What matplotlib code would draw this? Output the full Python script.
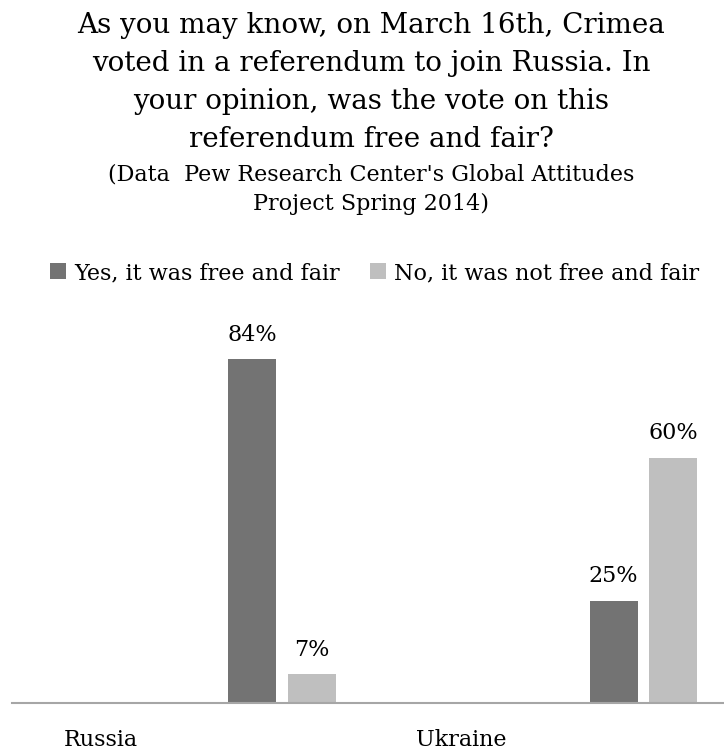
import numpy as np
import matplotlib.pyplot as plt

plt.rcParams['font.family'] = ['DejaVu Serif']

# data
countries = ['Russia', 'Ukraine']
yes_fair = [84, 25]
not_fair = [7, 60]
series_names = ['Yes, it was free and fair', 'No, it was not free and fair']

title_lines = ['As you may know, on March 16th, Crimea',
               'voted in a referendum to join Russia. In',
               'your opinion, was the vote on this',
               'referendum free and fair?']
sub_lines = ["(Data  Pew Research Center's Global Attitudes",
             'Project Spring 2014)']

W, H = 724, 754
fig = plt.figure(figsize=(W / 100, H / 100), dpi=100)
ax = fig.add_axes([12 / W, 51 / H, 712 / W, 90 * 4.09 / H])

x = np.arange(len(countries))
bw = 0.133
b1 = ax.bar(x + 0.421, yes_fair, bw, color='#737373', label=series_names[0])
b2 = ax.bar(x + 0.586, not_fair, bw, color='#bfbfbf', label=series_names[1])

for bars, vals in [(b1, yes_fair), (b2, not_fair)]:
    for r, v in zip(bars, vals):
        ax.annotate(f'{v}%', (r.get_x() + r.get_width() / 2, v),
                    xytext=(0, 13.5), textcoords='offset points',
                    ha='center', va='baseline', fontsize=16)

ax.set_xlim(-0.245, 1.727)
ax.set_ylim(0, 90)
ax.set_xticks(x)
ax.set_xticklabels(countries, fontsize=16)
ax.tick_params(axis='x', length=0, pad=19)
ax.set_yticks([])
for s in ['top', 'right', 'left']:
    ax.spines[s].set_visible(False)
ax.spines['bottom'].set_color('#a6a6a6')
ax.spines['bottom'].set_linewidth(1.5)

# title block
for line, yb in zip(title_lines, [33, 71, 109, 147]):
    fig.text(371 / W, 1 - yb / H, line, ha='center', va='baseline', fontsize=20)
for line, yb in zip(sub_lines, [180, 210]):
    fig.text(371 / W, 1 - yb / H, line, ha='center', va='baseline', fontsize=16)

fig.legend(loc='center', bbox_to_anchor=(374.5 / W, 1 - 273 / H), ncol=2,
           frameon=False, fontsize=16, handlelength=0.72, handleheight=0.72,
           handletextpad=0.36, columnspacing=1.35, borderpad=0)

fig.savefig('out.png', dpi=100)
